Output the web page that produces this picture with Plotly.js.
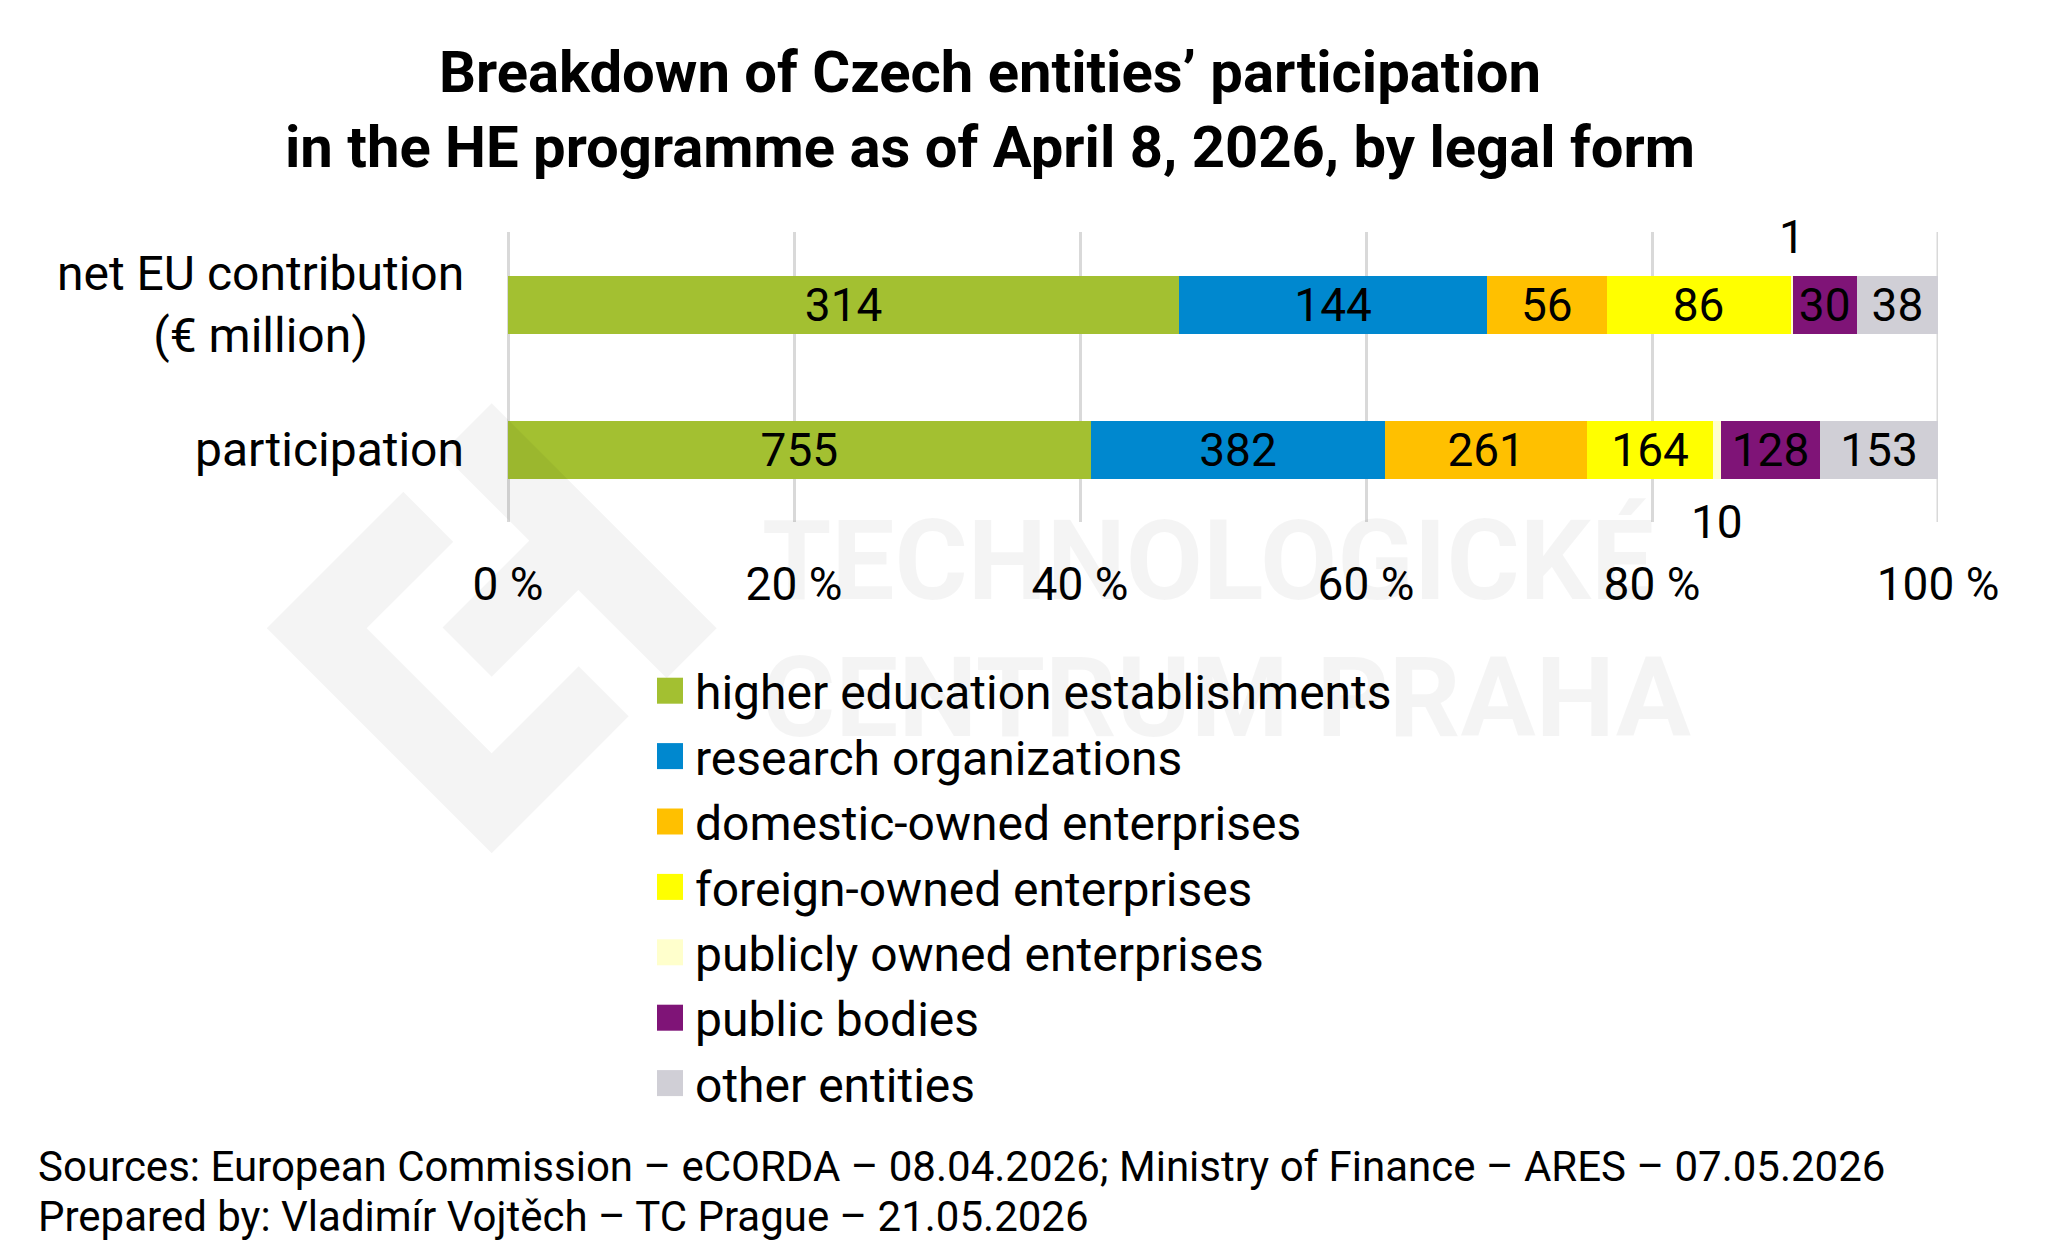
<!DOCTYPE html>
<html>
<head>
<meta charset="utf-8">
<script src="https://cdn.plot.ly/plotly-3.0.1.min.js"></script>
<style>
  html, body { margin: 0; padding: 0; background: #ffffff; }
  #chart { width: 2060px; height: 1256px; }
</style>
</head>
<body>
<div id="chart"></div>
<script>
// Czech participation in Horizon Europe, split by legal form of the entity
const categories = ['net EU contribution<br>(€ million)', 'participation'];
const seriesNames = [
  'higher education establishments',
  'research organizations',
  'domestic-owned enterprises',
  'foreign-owned enterprises',
  'publicly owned enterprises',
  'public bodies',
  'other entities'
];
const higherEducation     = [314, 755];
const researchOrgs        = [144, 382];
const domesticEnterprises = [56, 261];
const foreignEnterprises  = [86, 164];
const publicEnterprises   = [1, 10];
const publicBodies        = [30, 128];
const otherEntities       = [38, 153];
const tickValues = [0, 20, 40, 60, 80, 100];
const tickLabels = ['0 %', '20 %', '40 %', '60 %', '80 %', '100 %'];
const sourceLines = [
  'Sources: European Commission – eCORDA – 08.04.2026; Ministry of Finance – ARES – 07.05.2026',
  'Prepared by: Vladimír Vojtěch – TC Prague – 21.05.2026'
];

const seriesValues = [higherEducation, researchOrgs, domesticEnterprises,
  foreignEnterprises, publicEnterprises, publicBodies, otherEntities];
const palette = ['#A3C031', '#0088CF', '#FFC000', '#FFFF00', '#FFFFCC', '#7F1477', '#D0CFD6'];
const FONT = 'Roboto, "Noto Sans", "DejaVu Sans", sans-serif';
const GRID = '#D9D9D9';
// series whose segments are too thin to hold their own label
const thinSeries = 4;

const traces = seriesValues.map((vals, i) => ({
  type: 'bar',
  orientation: 'h',
  name: seriesNames[i],
  y: categories,
  x: vals,
  marker: { color: palette[i], line: { width: 0 } },
  text: vals.map(v => (i === thinSeries ? '' : String(v))),
  textposition: 'inside',
  insidetextanchor: 'middle',
  textangle: 0,
  constraintext: 'none',
  textfont: { family: FONT, size: 46, color: '#000000' },
  hoverinfo: 'skip'
}));

// plot area in pixels: x 508..1938, y 232..522
const W = 2060, H = 1256, L = 508, R = 1938, T = 232, B = 522;
const px = x => (x - L) / (R - L);
const py = y => (B - y) / (B - T);

const annotations = [];

// category names, centred line by line, right of the label column
categories.forEach(c => annotations.push({
  xref: 'paper', yref: 'y', x: 0, y: c, xanchor: 'right', yanchor: 'middle',
  xshift: -42, align: 'center', showarrow: false, text: c,
  font: { family: FONT, size: 48, color: '#000' }
}));

// values of the thin segments, written above / below the bar
const totals = categories.map((_, c) => seriesValues.reduce((s, v) => s + v[c], 0));
categories.forEach((cat, c) => {
  let before = 0;
  for (let i = 0; i < thinSeries; i++) before += seriesValues[i][c];
  const v = seriesValues[thinSeries][c];
  annotations.push({
    xref: 'x', yref: 'y', x: (before + v / 2) / totals[c] * 100, y: cat,
    xanchor: 'center', yanchor: 'middle', yshift: c === 0 ? 68 : -72,
    showarrow: false, text: String(v),
    font: { family: FONT, size: 46, color: '#000' }
  });
});

// watermark lettering
const markColor = 'rgba(0,0,0,0.045)';
[['TECHNOLOGICKÉ', 560], ['CENTRUM PRAHA', 697]].forEach(([t, yc]) => annotations.push({
  xref: 'paper', yref: 'paper', x: px(760), y: py(yc), xanchor: 'left', yanchor: 'middle',
  showarrow: false, text: t,
  font: { family: FONT, size: 112, weight: 700, color: markColor }
}));

// sources, one line each
sourceLines.forEach((line, k) => annotations.push({
  xref: 'paper', yref: 'paper', x: px(36), y: py(1166 + 50 * k), xanchor: 'left', yanchor: 'middle',
  align: 'left', showarrow: false, text: line,
  font: { family: FONT, size: 42, color: '#000' }
}));

// watermark emblem: two interlocking diamond bands
const toPath = pts => 'M' + pts.map(p => px(p[0]).toFixed(5) + ',' + py(p[1]).toFixed(5)).join('L') + 'Z';
const emblemA = [[403.3, 491.7], [266.7, 628.3], [491.7, 853.3], [628.7, 716.3],
                 [578.7, 666.3], [491.7, 753.3], [366.7, 628.3], [453.3, 541.7]];
const emblemB = [[491.7, 403.3], [716.7, 628.3], [666.7, 678.3], [578.3, 590],
                 [491.7, 676.7], [442.5, 627.5], [529.2, 540.8], [441.7, 453.3]];
const shapes = [emblemA, emblemB].map(p => ({
  type: 'path', xref: 'paper', yref: 'paper', path: toPath(p),
  fillcolor: markColor, line: { width: 0 }, layer: 'above'
}));
// gridline at the right edge of the scale
const lastTick = tickValues[tickValues.length - 1];
shapes.push({
  type: 'line', xref: 'x', yref: 'paper', x0: lastTick, x1: lastTick, y0: 0, y1: 1,
  line: { color: GRID, width: 3 }, layer: 'below'
});

const layout = {
  width: W, height: H,
  margin: { l: L, r: W - R, t: T, b: H - B, pad: 0, autoexpand: false },
  paper_bgcolor: '#ffffff', plot_bgcolor: 'rgba(0,0,0,0)',
  barmode: 'stack', barnorm: 'percent', bargap: 0.6,
  font: { family: FONT, color: '#000000' },
  title: {
    text: 'Breakdown of Czech entities’ participation<br>in the HE programme as of April 8, 2026, by legal form',
    font: { family: FONT, size: 58, weight: 700, color: '#000' },
    xref: 'container', x: 990 / W, xanchor: 'center',
    yref: 'container', y: 1 - 92 / H, yanchor: 'top'
  },
  xaxis: {
    range: [0, 100], tickvals: tickValues, ticktext: tickLabels,
    showgrid: true, gridcolor: GRID, gridwidth: 3,
    zeroline: true, zerolinecolor: GRID, zerolinewidth: 3,
    showline: false, ticks: '', tickangle: 0,
    ticklabelstandoff: 31,
    tickfont: { family: FONT, size: 46, color: '#000' }, fixedrange: true
  },
  yaxis: {
    autorange: 'reversed', showticklabels: false, showgrid: false,
    zeroline: false, showline: false, ticks: '', fixedrange: true
  },
  showlegend: true,
  legend: {
    orientation: 'v', traceorder: 'normal',
    xref: 'paper', yref: 'paper', x: px(655), y: py(653),
    xanchor: 'left', yanchor: 'top', bgcolor: 'rgba(0,0,0,0)',
    font: { family: FONT, size: 48, color: '#000' }
  },
  annotations: annotations,
  shapes: shapes
};

// larger legend swatches
function enlargeSwatches(gd) {
  gd.querySelectorAll('g.legendpoints path')
    .forEach(p => p.setAttribute('d', 'M8,13H-18V-13H8Z'));
}

Plotly.newPlot('chart', traces, layout, { displayModeBar: false, staticPlot: true }).then(gd => {
  enlargeSwatches(gd);
  gd.on('plotly_afterplot', () => enlargeSwatches(gd));
  setTimeout(() => enlargeSwatches(gd), 50);
});
</script>
</body>
</html>
